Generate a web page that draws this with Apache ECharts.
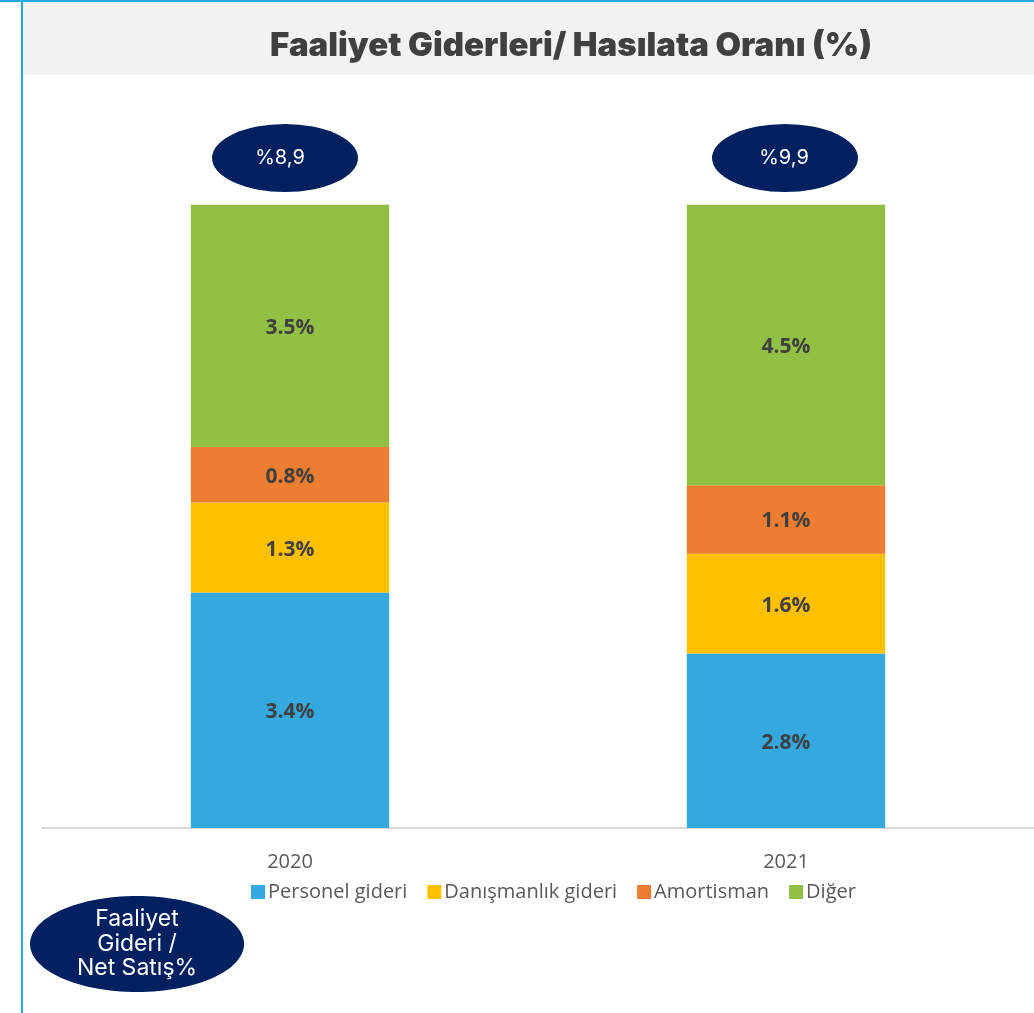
<!DOCTYPE html>
<html lang="tr">
<head>
<meta charset="UTF-8">
<title>Faaliyet Giderleri/ Hasılata Oranı (%)</title>
<script src="https://cdn.jsdelivr.net/npm/echarts@6/dist/echarts.min.js"></script>
<style>
  html, body { margin: 0; padding: 0; background: #fff; }
  #chart { width: 1034px; height: 1013px; }
</style>
</head>
<body>
<div id="chart"></div>
<script>
// yıllar ve kalemler (% net satış)
const years = ['2020', '2021'];
const personel = [3.4, 2.8];
const danismanlik = [1.3, 1.6];
const amortisman = [0.8, 1.1];
const diger = [3.5, 4.5];
const totals = ['%8,9', '%9,9'];

const seriesDefs = [
  { name: 'Personel gideri', data: personel, color: '#35a8df' },
  { name: 'Danışmanlık gideri', data: danismanlik, color: '#ffc000' },
  { name: 'Amortisman', data: amortisman, color: '#ed7d31' },
  { name: 'Diğer', data: diger, color: '#92c045' }
];

// %100 yığılmış sütun: her yılın payı
const yearSum = years.map((_, i) => seriesDefs.reduce((s, d) => s + d.data[i], 0));

const topVal = 1.075;

let chart = echarts.init(document.getElementById('chart'));

let series = seriesDefs.map(d => ({
  name: d.name,
  type: 'bar',
  stack: 'total',
  barWidth: '40%',
  itemStyle: { color: d.color },
  label: {
    show: true,
    position: 'inside',
    offset: [0, 2],
    fontFamily: 'Open Sans',
    fontWeight: 'bold',
    fontSize: 21,
    color: '#404040',
    formatter: p => d.data[p.dataIndex].toFixed(1) + '%'
  },
  data: d.data.map((v, i) => v / yearSum[i])
}));

series.push({
  type: 'scatter',
  symbol: 'circle',
  symbolSize: [146, 68],
  clip: false,
  silent: true,
  itemStyle: { color: '#002060', opacity: 1 },
  label: {
    show: true,
    position: 'inside',
    fontFamily: 'Inter',
    fontSize: 20,
    color: '#ffffff',
    formatter: p => totals[p.dataIndex]
  },
  data: [
    { value: topVal, symbolOffset: [-5, 0], label: { offset: [-5, 0] } },
    { value: topVal, symbolOffset: [-1, 0], label: { offset: [-1, 0] } }
  ]
});

chart.setOption({
  animation: false,
  backgroundColor: '#ffffff',
  graphic: [
    { type: 'rect', shape: { x: 22, y: 2, width: 1012, height: 73 }, style: { fill: '#f2f2f2' }, z: -10 },
    { type: 'rect', shape: { x: 0, y: 0, width: 1034, height: 2 }, style: { fill: '#1fa9e1' }, z: -5 },
    { type: 'rect', shape: { x: 21, y: 0, width: 2, height: 1013 }, style: { fill: '#1fa9e1' }, z: -5 },
    {
      type: 'ellipse',
      shape: { cx: 137, cy: 944, rx: 107, ry: 48 },
      style: { fill: '#002060' }
    },
    {
      type: 'text',
      x: 137, y: 944,
      style: {
        text: 'Faaliyet\nGideri /\nNet Satış%',
        fill: '#ffffff',
        fontFamily: 'Inter',
        fontSize: 23,
        lineHeight: 24.5,
        align: 'center',
        verticalAlign: 'middle'
      }
    }
  ],
  title: {
    text: 'Faaliyet Giderleri/ Hasılata Oranı (%)',
    left: 566,
    textAlign: 'center',
    top: 25,
    textStyle: { fontFamily: 'Inter', fontWeight: 900, fontSize: 33, color: '#404040' }
  },
  legend: {
    bottom: 106,
    left: 246,
    itemWidth: 14,
    itemHeight: 14,
    itemGap: 20,
    icon: 'rect',
    data: seriesDefs.map(d => d.name),
    textStyle: { fontFamily: 'Open Sans', fontSize: 20, color: '#595959', padding: [0, 0, 0, -2] }
  },
  grid: { left: 42, right: -2, top: 158, bottom: 185, containLabel: false },
  xAxis: {
    type: 'category',
    data: years,
    axisTick: { show: false },
    axisLine: { lineStyle: { color: '#d9d9d9', width: 2 } },
    axisLabel: { fontFamily: 'Open Sans', fontSize: 20, color: '#595959', margin: 24 }
  },
  yAxis: {
    type: 'value',
    min: 0,
    max: topVal,
    show: false,
    splitLine: { show: false }
  },
  series: series
});
</script>
</body>
</html>
